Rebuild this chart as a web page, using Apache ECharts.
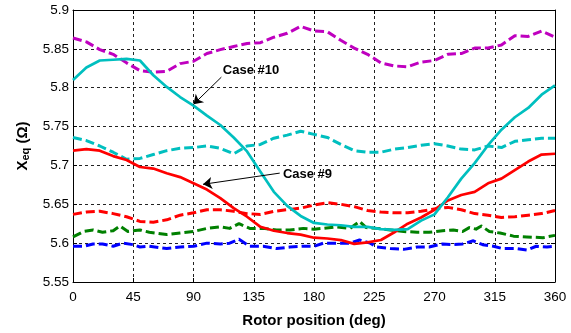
<!DOCTYPE html>
<html>
<head>
<meta charset="utf-8">
<script src="https://cdn.jsdelivr.net/npm/echarts@6/dist/echarts.min.js"></script>
<style>
html,body{margin:0;padding:0;background:#fff;}
#chart{width:571px;height:333px;}
</style>
</head>
<body>
<div id="chart"></div>
<script>
// Shared rotor angles (deg) for 10-degree sampled series
const angles = [0,10,20,30,40,50,60,70,80,90,100,110,120,130,140,150,160,170,180,190,200,210,220,230,240,250,260,270,280,290,300,310,320,330,340,350,360];

const magentaDashed = [5.864,5.859,5.849,5.843,5.832,5.822,5.820,5.821,5.831,5.834,5.844,5.849,5.853,5.857,5.858,5.865,5.870,5.879,5.873,5.872,5.861,5.851,5.843,5.832,5.828,5.827,5.833,5.835,5.843,5.844,5.851,5.851,5.855,5.867,5.866,5.873,5.865];

const cyanSolid = [5.810,5.826,5.835,5.836,5.837,5.835,5.816,5.801,5.788,5.777,5.764,5.752,5.736,5.718,5.692,5.666,5.648,5.635,5.626,5.624,5.623,5.621,5.621,5.618,5.617,5.618,5.629,5.637,5.659,5.683,5.703,5.726,5.746,5.762,5.774,5.791,5.803];

const cyanDashed = [5.736,5.732,5.725,5.717,5.708,5.709,5.714,5.719,5.722,5.723,5.725,5.722,5.715,5.725,5.727,5.735,5.739,5.744,5.740,5.736,5.727,5.719,5.717,5.717,5.721,5.723,5.726,5.728,5.725,5.721,5.720,5.725,5.723,5.731,5.733,5.735,5.735];

const redSolid = [5.719,5.721,5.719,5.712,5.707,5.698,5.696,5.690,5.685,5.677,5.669,5.658,5.645,5.634,5.621,5.616,5.613,5.611,5.607,5.606,5.604,5.599,5.601,5.604,5.614,5.625,5.633,5.643,5.655,5.662,5.666,5.677,5.683,5.694,5.705,5.714,5.715];

const redDashed = [5.637,5.640,5.641,5.638,5.634,5.628,5.627,5.630,5.636,5.639,5.643,5.643,5.641,5.638,5.637,5.641,5.643,5.645,5.649,5.652,5.650,5.647,5.642,5.640,5.639,5.639,5.641,5.644,5.646,5.643,5.638,5.636,5.633,5.634,5.636,5.638,5.642];

const greenAngles = [0,8,15,22,30,35,41,50,57,70,80,90,100,110,117,124,132,142,152,162,172,180,187,197,207,214,219,227,237,247,257,266,276,284,291,296,301,305,311,319,329,339,351,360];
const greenDashed = [5.608,5.615,5.617,5.614,5.616,5.622,5.615,5.617,5.614,5.611,5.613,5.615,5.619,5.621,5.619,5.625,5.619,5.619,5.617,5.617,5.619,5.618,5.619,5.621,5.619,5.628,5.620,5.619,5.617,5.615,5.614,5.614,5.616,5.617,5.615,5.620,5.618,5.622,5.615,5.613,5.609,5.608,5.607,5.610];

const blueAngles = [0,8,15,22,30,37,45,50,57,70,80,90,100,110,117,124,132,142,152,162,172,180,187,197,207,214,222,227,237,247,257,266,276,284,291,299,306,314,321,331,339,346,354,360];
const blueDashed = [5.596,5.596,5.599,5.599,5.596,5.600,5.598,5.595,5.596,5.593,5.595,5.596,5.600,5.599,5.600,5.605,5.596,5.596,5.593,5.595,5.596,5.596,5.600,5.600,5.600,5.604,5.600,5.595,5.593,5.592,5.595,5.595,5.599,5.598,5.599,5.603,5.598,5.596,5.593,5.593,5.591,5.596,5.595,5.596];

const xTicks = [0,45,90,135,180,225,270,315,360];
const yTicks = [5.55,5.6,5.65,5.7,5.75,5.8,5.85,5.9];

// Annotations in data units: text anchor (left-middle), arrow tail and arrow tip
const case10Text = [111.5, 5.8226];
const case10Arrow = [[110.8, 5.8136], [90, 5.7786]];
const case9Text = [156.4, 5.6885];
const case9Arrow = [[154.4, 5.6901], [97.1, 5.6757]];

const pairs = (xs, ys) => xs.map((x, i) => [x, ys[i]]);

const FONT = '"Liberation Sans", Arial, sans-serif';
const DASH = [9, 4];

function lineSeries(name, xs, ys, color, dashed, extra) {
  return Object.assign({
    name, type: 'line', data: pairs(xs, ys), showSymbol: false, symbol: 'none',
    smooth: false, animation: false,
    lineStyle: { color, width: dashed ? 3 : 2.7, type: dashed ? DASH : 'solid', cap: 'butt', join: 'round' }
  }, extra || {});
}

function annotation(text, anchor, arrow) {
  return {
    markLine: {
      silent: true, symbol: ['none', 'arrow'], symbolSize: 9, animation: false,
      label: { show: false },
      lineStyle: { color: '#000', width: 1, type: 'solid' },
      data: [[{ coord: arrow[0] }, { coord: arrow[1] }]]
    },
    markPoint: {
      silent: true, symbol: 'circle', symbolSize: 1, itemStyle: { color: 'rgba(0,0,0,0)' }, animation: false,
      label: { show: true, position: 'right', distance: 0, formatter: text, fontFamily: FONT, fontSize: 13, fontWeight: 'bold', color: '#000' },
      data: [{ coord: anchor }]
    }
  };
}

const chart = echarts.init(document.getElementById('chart'), null, { renderer: 'canvas' });

const gridLineStyle = { color: '#222', width: 1, type: [3, 3] };
const axisLineStyle = { show: true, onZero: false, lineStyle: { color: '#000', width: 1 } };
const tickStyle = { show: true, inside: true, length: 4, lineStyle: { color: '#000' } };

chart.setOption({
  animation: false,
  backgroundColor: '#fff',
  grid: { left: 73, top: 10, width: 482, height: 283.5, containLabel: false },
  xAxis: [{
    type: 'value', min: 0, max: 360, interval: 45,
    name: 'Rotor position (deg)', nameLocation: 'middle', nameGap: 31,
    nameTextStyle: { fontFamily: FONT, fontSize: 15, fontWeight: 'bold', color: '#000' },
    axisLine: axisLineStyle, axisTick: tickStyle,
    axisLabel: { fontFamily: FONT, fontSize: 13.5, color: '#000', margin: 8, formatter: v => xTicks.includes(v) ? String(v) : '' },
    splitLine: { show: true, lineStyle: gridLineStyle }
  }, {
    type: 'value', min: 0, max: 360, interval: 45, position: 'top',
    axisLine: axisLineStyle, axisTick: tickStyle,
    axisLabel: { show: false }, splitLine: { show: false }
  }],
  yAxis: [{
    type: 'value', min: 5.55, max: 5.9, interval: 0.05,
    name: '{b|X}{s|eq}{b| (Ω)}', nameLocation: 'middle', nameGap: 41, nameRotate: 90,
    nameTextStyle: {
      rich: {
        b: { fontFamily: FONT, fontSize: 15, fontWeight: 'bold', color: '#000' },
        s: { fontFamily: FONT, fontSize: 11, fontWeight: 'bold', color: '#000', verticalAlign: 'bottom', padding: [7, 0, 0, 0] }
      }
    },
    axisLine: axisLineStyle, axisTick: tickStyle,
    axisLabel: { fontFamily: FONT, fontSize: 13.5, color: '#000', margin: 4, formatter: v => String(+v.toFixed(2)) },
    splitLine: { show: true, lineStyle: gridLineStyle }
  }, {
    type: 'value', min: 5.55, max: 5.9, interval: 0.05, position: 'right',
    axisLine: axisLineStyle, axisTick: tickStyle,
    axisLabel: { show: false }, splitLine: { show: false }
  }],
  series: [
    lineSeries('blue', blueAngles, blueDashed, '#0000ff', true),
    lineSeries('green', greenAngles, greenDashed, '#008000', true),
    lineSeries('redDashed', angles, redDashed, '#ff0000', true),
    lineSeries('cyanDashed', angles, cyanDashed, '#00bfbf', true),
    lineSeries('magenta', angles, magentaDashed, '#bf00bf', true),
    lineSeries('redSolid', angles, redSolid, '#ff0000', false, annotation('Case #9', case9Text, case9Arrow)),
    lineSeries('cyanSolid', angles, cyanSolid, '#00bfbf', false, annotation('Case #10', case10Text, case10Arrow))
  ]
});
</script>
</body>
</html>
